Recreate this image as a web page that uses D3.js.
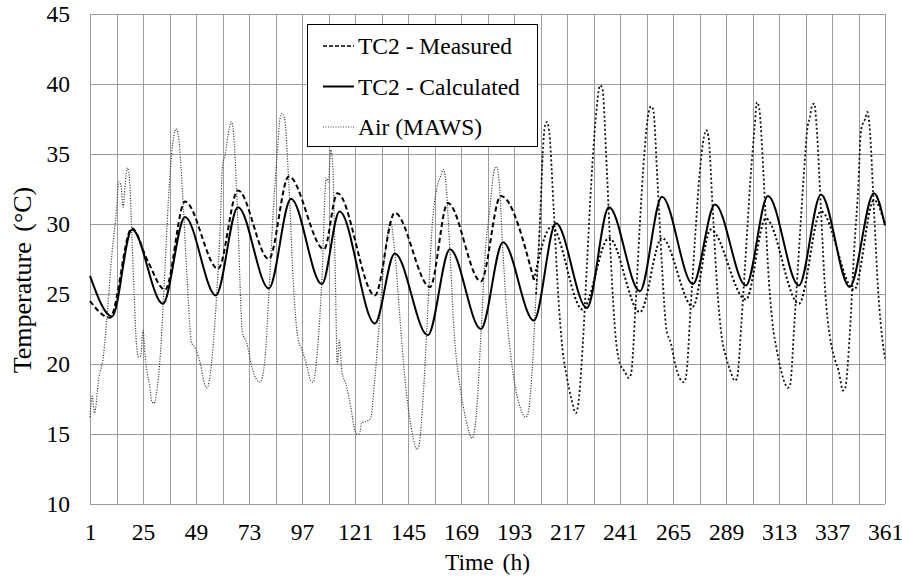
<!DOCTYPE html>
<html>
<head>
<meta charset="utf-8">
<script src="https://cdn.jsdelivr.net/npm/d3@7"></script>
<style>
  html, body { margin: 0; padding: 0; background: #ffffff; }
  svg { display: block; }
</style>
</head>
<body>
<div id="chart"></div>
<script>
// hourly time axis, 1..361
const xTicks = [1, 25, 49, 73, 97, 121, 145, 169, 193, 217, 241, 265, 289, 313, 337, 361];
const yTicks = [10, 15, 20, 25, 30, 35, 40, 45];

// TC2 - Calculated
const calcHours = [1, 11, 20, 34, 44, 58, 68, 82, 92, 106, 114, 130, 139, 154, 164, 178, 188, 202, 212, 226, 236, 250, 260, 274, 284, 298, 308, 322, 332, 345, 356, 361];
const calcTemps = [26.3, 23.4, 29.6, 24.3, 30.5, 24.9, 31.2, 25.4, 31.8, 25.7, 30.9, 22.9, 27.9, 22.05, 28.2, 22.5, 28.7, 23.1, 30.05, 24.0, 31.2, 25.2, 31.95, 25.7, 31.4, 25.6, 32.0, 25.6, 32.1, 25.5, 32.2, 29.9];

// TC2 - Measured
const measHours = [1, 10, 20, 27, 35, 44, 59, 68, 82, 91, 107, 113, 130, 139, 155, 163, 178, 187, 202, 210, 224, 236, 250, 260, 274, 282, 298, 307, 322, 332, 347, 356, 361];
const measTemps = [24.5, 23.3, 29.7, 27.4, 25.3, 31.6, 26.8, 32.4, 27.5, 33.4, 28.2, 32.2, 24.9, 30.8, 25.5, 31.5, 25.9, 32.0, 26.0, 29.8, 23.9, 29.0, 23.7, 29.0, 24.1, 29.6, 24.6, 30.4, 24.3, 30.9, 25.3, 31.7, 30.0];

// Air (MAWS)
const airHours = [1, 2, 3, 5, 7, 9, 11, 13, 14, 15, 16, 17, 18, 19, 20, 21, 22, 23, 24, 25, 26, 27, 28, 29, 30, 31, 33, 35, 37, 39, 40, 41, 43, 45, 47, 48, 49, 51, 53, 54, 56, 58, 60, 61, 62, 64, 65, 66, 68, 70, 72, 74, 76, 78, 80, 82, 84, 86, 87, 88, 89, 91, 93, 95, 97, 99, 101, 102, 104, 106, 108, 109, 110, 111, 112, 113, 114, 115, 117, 119, 121, 122, 123, 124, 126, 128, 130, 132, 134, 136, 137, 139, 141, 143, 145, 147, 149, 150, 152, 154, 156, 158, 160, 161, 162, 164, 166, 168, 170, 172, 174, 176, 178, 180, 182, 184, 185, 186, 188, 190, 192, 194, 196, 198, 199, 201, 203, 205, 206, 207, 208, 209, 211, 213, 215, 217, 219, 221, 222, 224, 226, 228, 230, 232, 233, 235, 237, 239, 241, 243, 245, 246, 248, 250, 252, 254, 255, 256, 258, 260, 262, 264, 266, 268, 270, 271, 273, 275, 277, 279, 280, 281, 283, 285, 287, 289, 291, 293, 294, 296, 298, 300, 302, 303, 304, 306, 308, 310, 312, 314, 316, 317, 318, 320, 322, 324, 326, 327, 328, 329, 330, 332, 334, 336, 338, 340, 342, 343, 345, 347, 349, 350, 351, 352, 353, 354, 356, 358, 360, 361];
const airTemps = [16.2, 17.7, 16.5, 19, 20.5, 24, 28, 31, 33, 32.8, 31.2, 33.0, 34.0, 33, 29, 25, 21.5, 20.5, 20.6, 22.4, 20.5, 19.3, 18.5, 17.3, 17.2, 17.8, 21, 27, 33, 36.3, 36.8, 36.3, 32, 26, 21.5, 21.3, 21.0, 20, 18.5, 18.3, 20, 24, 30, 34.2, 34.8, 36.8, 37.3, 36.5, 30, 22.3, 21.5, 20, 19, 18.7, 20, 25, 31, 35.5, 37.5, 37.9, 37.6, 33, 26, 22, 21, 20, 18.8, 18.7, 21, 26, 33.3, 33.0, 35.3, 34, 27, 20, 21.7, 19.5, 18.5, 17, 15.2, 15, 15, 15.8, 15.9, 16.1, 19, 23, 27, 29.5, 30.2, 28, 24, 20, 17, 15, 13.9, 14.2, 18, 24, 30, 32.5, 33.5, 33.9, 33.2, 28, 22, 19, 17, 15.5, 14.7, 16.5, 22, 28, 31, 33.8, 34.1, 33.5, 28, 23, 20, 18, 16.8, 16.2, 16.3, 19, 25, 31, 35, 37, 37.3, 36.5, 31, 25, 21, 19, 17.5, 16.5, 17, 21, 27, 33, 37.5, 39.9, 39.7, 34, 27, 22, 20, 19.5, 19, 19.3, 24, 30, 35, 38, 38.4, 38.2, 33, 27, 22.5, 21.5, 20, 19, 18.7, 19.2, 24, 29, 33.5, 36.2, 36.7, 36.3, 31, 25.5, 22, 20.5, 19.5, 18.8, 19.0, 23, 28, 33, 37, 38.7, 38.3, 33.5, 27, 23, 21, 19.5, 18.5, 18.3, 18.5, 23, 28, 33, 37, 37.6, 38.5, 38.6, 37, 31, 25, 22, 20.5, 19.5, 18.1, 18.3, 22, 28, 33, 36.5, 37.2, 37.5, 38.0, 37, 31, 25, 21.5, 20.4];

// hour where the plotted line style of the logged series changes
const styleBreak = 204;

// pick the first serif face that is really installed
function pickFont(candidates) {
  const ctx = document.createElement("canvas").getContext("2d");
  const probe = "Temperature (MAWS) 0123456789";
  const widthOf = (family) => {
    ctx.font = `40px ${family}`;
    return ctx.measureText(probe).width;
  };
  const mono = widthOf("monospace");
  const sans = widthOf("sans-serif");
  for (const name of candidates) {
    const w1 = widthOf(`'${name}', monospace`);
    const w2 = widthOf(`'${name}', sans-serif`);
    if (w1 !== mono || w2 !== sans) return `'${name}'`;
  }
  return "serif";
}
const fontFamily = pickFont(["Liberation Serif", "Tinos", "Times New Roman", "Times", "Nimbus Roman", "DejaVu Serif", "Noto Serif"]);

const width = 902;
const height = 579;
const margin = { top: 14, right: 17, bottom: 75, left: 90 };
const fontSize = 23.5;

const svg = d3.select("#chart")
  .append("svg")
  .attr("width", width)
  .attr("height", height)
  .attr("font-family", fontFamily);

const x = d3.scaleLinear().domain([1, 361]).range([margin.left, width - margin.right]);
const y = d3.scaleLinear().domain([10, 45]).range([height - margin.bottom, margin.top]);

const grid = svg.append("g").attr("stroke", "#9c9c9c").attr("stroke-width", 1);

d3.range(1, 362, 12).forEach((h) => {
  grid.append("line")
    .attr("x1", Math.round(x(h)) + 0.5).attr("x2", Math.round(x(h)) + 0.5)
    .attr("y1", y(10)).attr("y2", y(45));
});
yTicks.forEach((v) => {
  grid.append("line")
    .attr("x1", x(1)).attr("x2", x(361))
    .attr("y1", Math.round(y(v)) + 0.5).attr("y2", Math.round(y(v)) + 0.5);
});

// tick labels via axes with lines hidden
const xAxis = svg.append("g")
  .attr("transform", `translate(0,${y(10)})`)
  .call(d3.axisBottom(x).tickValues(xTicks).tickSize(0).tickPadding(19).tickFormat(d3.format("d")));
const yAxis = svg.append("g")
  .attr("transform", `translate(${x(1)},0)`)
  .call(d3.axisLeft(y).tickValues(yTicks).tickSize(0).tickPadding(20).tickFormat(d3.format("d")));
[xAxis, yAxis].forEach((axis) => {
  axis.attr("font-family", fontFamily).attr("font-size", fontSize);
  axis.select(".domain").remove();
  axis.selectAll("text").attr("fill", "#000");
});

const line = (hours, temps) => d3.line()
  .x((d) => x(d[0]))
  .y((d) => y(d[1]))
  .curve(d3.curveMonotoneX)(d3.zip(hours, temps));

function split(hours, temps, before) {
  const pairs = d3.zip(hours, temps);
  const keep = pairs.filter((p) => (before ? p[0] <= styleBreak + 2 : p[0] >= styleBreak - 2));
  return [keep.map((p) => p[0]), keep.map((p) => p[1])];
}

const plot = svg.append("g").attr("fill", "none");

// air, fine dotted in the first part, heavier dots afterwards
const airA = split(airHours, airTemps, true);
const airB = split(airHours, airTemps, false);
plot.append("path").attr("d", line(...airA))
  .attr("stroke", "#3a3a3a").attr("stroke-width", 1.2).attr("stroke-dasharray", "1.1,1.5");
plot.append("path").attr("d", line(...airB))
  .attr("stroke", "#111").attr("stroke-width", 1.8).attr("stroke-dasharray", "2,2.4");

const measA = split(measHours, measTemps, true);
const measB = split(measHours, measTemps, false);
plot.append("path").attr("d", line(...measA))
  .attr("stroke", "#000").attr("stroke-width", 2).attr("stroke-dasharray", "5,3");
plot.append("path").attr("d", line(...measB))
  .attr("stroke", "#000").attr("stroke-width", 2).attr("stroke-dasharray", "2,2.4");

plot.append("path").attr("d", line(calcHours, calcTemps))
  .attr("stroke", "#000").attr("stroke-width", 2);

// axis titles
svg.append("text")
  .attr("x", (x(1) + x(361)) / 2)
  .attr("y", 570)
  .attr("text-anchor", "middle")
  .attr("font-size", fontSize)
  .attr("word-spacing", 3)
  .text("Time (h)");

svg.append("text")
  .attr("transform", "translate(31,280) rotate(-90)")
  .attr("text-anchor", "middle")
  .attr("font-size", 26)
  .attr("word-spacing", 4)
  .text("Temperature (°C)");

// legend
const legend = svg.append("g").attr("transform", "translate(307,24)");
legend.append("rect")
  .attr("x", 0.5).attr("y", 0.5)
  .attr("width", 230).attr("height", 122)
  .attr("fill", "#fff").attr("stroke", "#000").attr("stroke-width", 1);

const legendItems = [
  { label: "TC2 - Measured", dash: "4,2", width: 1.5, color: "#000" },
  { label: "TC2 - Calculated", dash: null, width: 2, color: "#000" },
  { label: "Air (MAWS)", dash: "1,1.5", width: 1, color: "#444" }
];
legendItems.forEach((item, i) => {
  const cy = 22 + i * 40.5;
  legend.append("line")
    .attr("x1", 16).attr("x2", 47)
    .attr("y1", cy).attr("y2", cy)
    .attr("stroke", item.color)
    .attr("stroke-width", item.width)
    .attr("stroke-dasharray", item.dash);
  legend.append("text")
    .attr("x", 51).attr("y", cy + 8)
    .attr("font-size", fontSize)
    .text(item.label);
});
</script>
</body>
</html>
